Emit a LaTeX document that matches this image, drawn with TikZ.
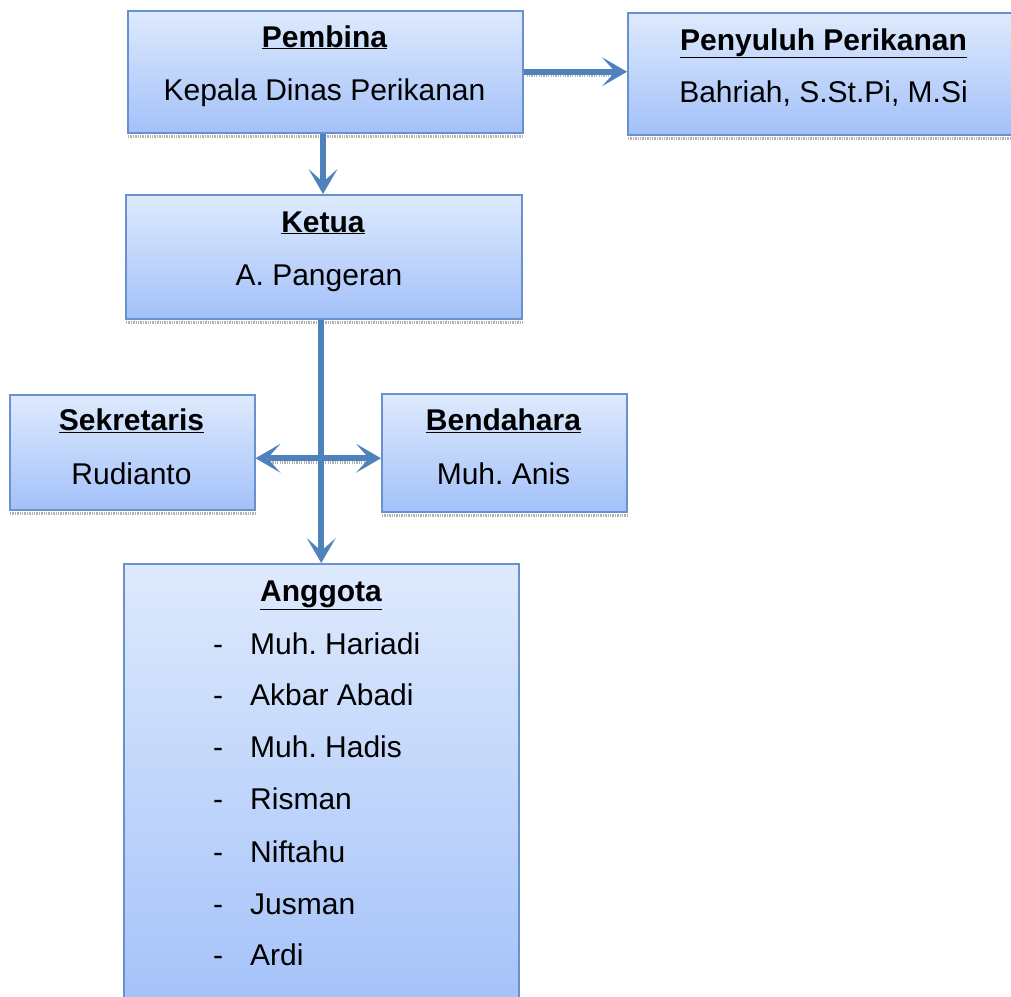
\documentclass[tikz,border=0pt]{standalone}
\usepackage{fontspec}
\setmainfont{Liberation Sans}
\usetikzlibrary{arrows.meta,calc}
\frenchspacing
\definecolor{boxtop}{RGB}{222,234,253}
\definecolor{boxbot}{RGB}{163,193,249}
\definecolor{boxline}{RGB}{105,145,208}
\definecolor{arrowc}{RGB}{79,129,189}
\tikzset{
  orgbox/.style={rectangle, draw=boxline, line width=1.5pt, top color=boxtop, bottom color=boxbot, inner sep=0pt, anchor=north west},
  ttl/.style={anchor=base, font=\fontsize{30}{36}\selectfont\bfseries, inner sep=0pt},
  txt/.style={anchor=base, font=\fontsize{30}{36}\selectfont, inner sep=0pt},
  conn/.style={draw=arrowc, line width=6pt},
  chev/.tip={Stealth[length=25pt,width=29pt,inset=13pt,line width=0pt,round]},
  arrhead/.style={-chev},
  dblhead/.style={chev-chev},
  shadowline/.style={draw=gray!60, line width=3.5pt, dash pattern=on 1.3pt off 1.1pt}
}
\begin{document}
\begin{tikzpicture}[x=1pt,y=-1pt]
\useasboundingbox (0,0) rectangle (1011,996);
\clip (0,0) rectangle (1011,996);
% boxes
\node[orgbox, minimum width=395pt, minimum height=122pt] (pembina) at (127,10) {};
\node[orgbox, minimum width=392pt, minimum height=122pt] (penyuluh) at (627,12) {};
\node[orgbox, minimum width=396pt, minimum height=124pt] (ketua) at (125,194) {};
\node[orgbox, minimum width=245pt, minimum height=115pt] (sek) at (9,394) {};
\node[orgbox, minimum width=245pt, minimum height=118pt] (bend) at (381,393) {};
\node[orgbox, minimum width=395pt, minimum height=450pt] (anggota) at (123,563) {};
% shadows
\foreach \b in {pembina,penyuluh,ketua,sek,bend}{
  \draw[shadowline] ($(\b.south west)+(1,3)$) -- ($(\b.south east)+(0,3)$);
}
% texts
\node[ttl] (pembinaT) at (324.5,47) {\underline{Pembina}};
\node[txt] (pembinaS) at (324.5,100) {Kepala Dinas Perikanan};
\node[ttl] (penyuluhT) at (823.5,50) {\underline{Penyuluh Perikanan}};
\node[txt] (penyuluhS) at (823.5,102) {Bahriah, S.St.Pi, M.Si};
\node[ttl] (ketuaT) at (323,232) {\underline{Ketua}};
\node[txt] (ketuaS) at (319,285) {A. Pangeran};
\node[ttl] (sekT) at (131.5,430) {\underline{Sekretaris}};
\node[txt] (sekS) at (131.5,484) {Rudianto};
\node[ttl] (bendT) at (503.5,430) {\underline{Bendahara}};
\node[txt] (bendS) at (503.5,484) {Muh. Anis};
\node[ttl] (anggotaT) at (321,601) {\underline{Anggota}};
\foreach \n/\y [count=\i] in {Muh. Hariadi/654, Akbar Abadi/705, Muh. Hadis/757, Risman/809, Niftahu/862, Jusman/914, Ardi/965}{
  \node[txt] (dash\i) at (218,\y) {-};
  \node[txt, anchor=base west] (mem\i) at (250,\y) {\n};
}
% connectors
\draw[shadowline, line width=2.5pt] ($(pembina.east)+(3,4)$) -- ($(pembina.east -| penyuluh.west)+(-10,4)$);
\draw[conn, arrhead] (pembina.east) -- (pembina.east -| penyuluh.west);
\draw[conn, arrhead] (pembina.south -| 323,0) -- (ketua.north -| 323,0);
\draw[shadowline, line width=2.5pt] ($(sek.east)+(12,10)$) -- ($(bend.west)+(-12,9.5)$);
\draw[conn, dblhead] ($(sek.east)+(0,6)$) -- ($(bend.west)+(0,5.5)$);
\draw[conn, arrhead] (anggota.north |- ketua.south) -- (anggota.north);
\end{tikzpicture}
\end{document}
